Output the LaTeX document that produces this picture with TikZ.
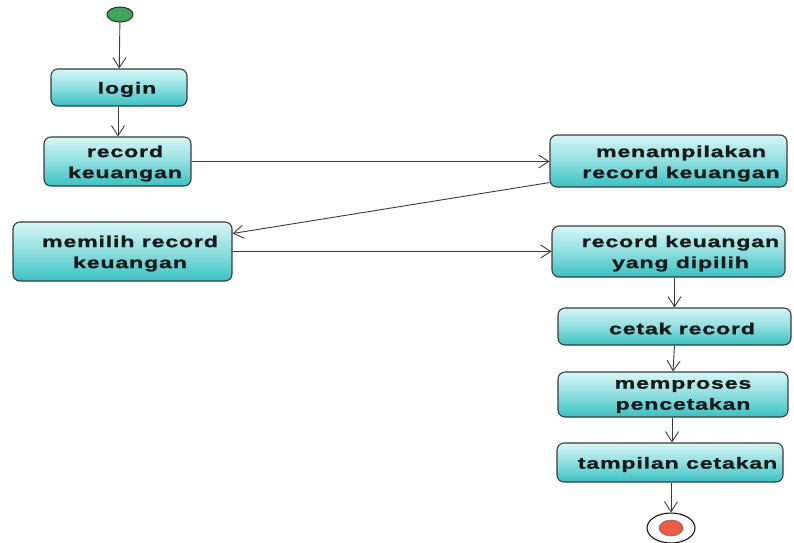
\documentclass[tikz,border=0pt]{standalone}
\usepackage{fontspec}
\newfontfamily\actfont{Liberation Sans Bold}[FakeStretch=1.45,LetterSpace=5,FakeBold=1.2]
\usetikzlibrary{arrows.meta,shapes.geometric}
\definecolor{boxtop}{HTML}{D6F6F6}
\definecolor{boxbot}{HTML}{38C2C4}
\definecolor{boxline}{HTML}{3A3A3A}
\definecolor{startfill}{HTML}{3FA45E}
\definecolor{endfill}{HTML}{EE5A44}
\tikzset{
  act/.style={draw=boxline, line width=1.1pt, rounded corners=7pt,
    top color=boxtop, bottom color=boxbot, middle color=boxtop!55!boxbot,
    inner sep=0pt},
  acttext/.style={font=\actfont\fontsize{16}{21}\selectfont, text=black!90, align=center,
    inner sep=0pt, yshift=-1.5pt},
  flow/.style={draw=boxline, line width=0.9pt,
    -{Straight Barb[length=10pt,width=13pt,line width=0.9pt]}},
}
\begin{document}
\begin{tikzpicture}[x=1pt,y=-1pt]
\useasboundingbox (0,0) rectangle (794,542);

% initial and final states
\node[ellipse, draw=black!80, line width=1.1pt, fill=startfill,
  minimum width=26pt, minimum height=15pt, inner sep=0pt] (start) at (120,14.5) {};
\node[ellipse, draw=black, line width=1pt, fill=white,
  minimum width=48pt, minimum height=30pt, inner sep=0pt] (stop) at (671,528) {};
\node[ellipse, draw=black!60, line width=0.5pt, fill=endfill,
  minimum width=24pt, minimum height=16pt, inner sep=0pt] (stopdot) at (stop.center) {};

% activities
\node[act, minimum width=136pt, minimum height=37pt] (login) at (119,87.5) {};
\node[acttext] (login-t) at (127,88) {login};

\node[act, minimum width=147pt, minimum height=49pt] (rec) at (117.5,161.5) {};
\node[acttext] (rec-t) at (125,162) {record\\keuangan};

\node[act, minimum width=237pt, minimum height=52pt] (show) at (668.5,161) {};
\node[acttext] (show-t) at (681,162) {menampilakan\\record keuangan};

\node[act, minimum width=219pt, minimum height=59pt] (pick) at (122.5,251.5) {};
\node[acttext] (pick-t) at (130,252) {memilih record\\keuangan};

\node[act, minimum width=233pt, minimum height=51pt] (chosen) at (668.5,251.5) {};
\node[acttext] (chosen-t) at (680.5,252) {record keuangan\\yang dipilih};

\node[act, minimum width=233pt, minimum height=37pt] (print) at (674.5,326.5) {};
\node[acttext] (print-t) at (682,327) {cetak record};

\node[act, minimum width=230pt, minimum height=45pt] (proc) at (673,394.5) {};
\node[acttext] (proc-t) at (683,395) {memproses\\pencetakan};

\node[act, minimum width=226pt, minimum height=39pt] (view) at (670,462.5) {};
\node[acttext] (view-t) at (677.5,463) {tampilan cetakan};

% transitions
\draw[flow] (start) -- (login);
\draw[flow] ([xshift=-1pt]login.south) -- ([xshift=0.5pt]rec.north);
\draw[flow] (rec.east) -- (rec.east -| show.west);
\draw[flow] ([yshift=5pt]show.south west) -- ([yshift=18pt]pick.east);
\draw[flow] (pick.east) -- (pick.east -| chosen.west);
\draw[flow] (print.north |- chosen.south) -- (print.north);
\draw[flow] (print.south) -- (proc.north);
\draw[flow] ([xshift=2pt]view.north |- proc.south) -- ([xshift=2pt]view.north);
\draw[flow] ([xshift=1pt]view.south) -- (stop.north);
\end{tikzpicture}
\end{document}
